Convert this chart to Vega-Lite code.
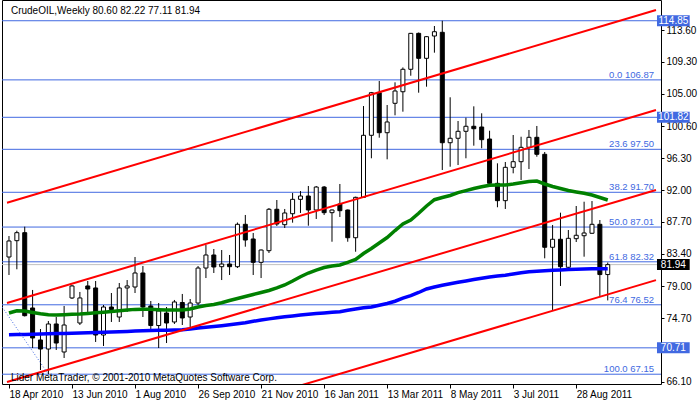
{
  "$schema": "https://vega.github.io/schema/vega-lite/v6.json",
  "width": 659,
  "height": 384,
  "autosize": {"type": "none"},
  "padding": {"left": 2, "top": 0, "right": 39, "bottom": 18},
  "background": "white",
  "config": {"view": {"stroke": "black", "strokeWidth": 1}, "font": "Liberation Sans"},
  "datasets": {
    "candles": [
      {"bar":0,"open":82.97,"high":85.80,"low":80.54,"close":85.13,"ma_green":75.41,"ma_blue":72.46},
      {"bar":1,"open":85.17,"high":86.52,"low":81.31,"close":86.25,"ma_green":75.72,"ma_blue":72.50},
      {"bar":2,"open":86.25,"high":87.06,"low":74.94,"close":75.05,"ma_green":75.68,"ma_blue":72.52},
      {"bar":3,"open":76.09,"high":78.52,"low":70.69,"close":72.04,"ma_green":75.48,"ma_blue":72.55},
      {"bar":4,"open":71.77,"high":73.25,"low":67.72,"close":70.55,"ma_green":75.30,"ma_blue":72.59},
      {"bar":5,"open":70.55,"high":74.33,"low":67.15,"close":73.93,"ma_green":75.18,"ma_blue":72.61},
      {"bar":6,"open":73.93,"high":74.87,"low":70.42,"close":71.36,"ma_green":75.14,"ma_blue":72.63},
      {"bar":7,"open":70.15,"high":76.36,"low":69.34,"close":73.79,"ma_green":75.18,"ma_blue":72.66},
      {"bar":8,"open":77.44,"high":79.19,"low":77.30,"close":79.06,"ma_green":75.24,"ma_blue":72.67},
      {"bar":9,"open":74.06,"high":78.25,"low":73.79,"close":77.44,"ma_green":75.28,"ma_blue":72.70},
      {"bar":10,"open":79.06,"high":79.73,"low":75.55,"close":78.65,"ma_green":75.36,"ma_blue":72.74},
      {"bar":11,"open":78.79,"high":79.73,"low":71.50,"close":72.44,"ma_green":75.44,"ma_blue":72.77},
      {"bar":12,"open":72.44,"high":76.49,"low":70.96,"close":76.22,"ma_green":75.51,"ma_blue":72.81},
      {"bar":13,"open":76.22,"high":78.11,"low":74.20,"close":75.88,"ma_green":75.60,"ma_blue":72.85},
      {"bar":14,"open":74.87,"high":79.46,"low":74.20,"close":78.79,"ma_green":75.71,"ma_blue":72.89},
      {"bar":15,"open":78.79,"high":79.86,"low":75.55,"close":79.06,"ma_green":75.82,"ma_blue":72.93},
      {"bar":16,"open":78.92,"high":82.97,"low":78.11,"close":80.81,"ma_green":75.90,"ma_blue":72.98},
      {"bar":17,"open":80.81,"high":81.75,"low":74.87,"close":76.22,"ma_green":75.91,"ma_blue":73.01},
      {"bar":18,"open":76.36,"high":77.03,"low":73.25,"close":73.72,"ma_green":75.91,"ma_blue":73.04},
      {"bar":19,"open":73.72,"high":76.76,"low":70.69,"close":75.68,"ma_green":75.86,"ma_blue":73.08},
      {"bar":20,"open":75.41,"high":76.22,"low":71.36,"close":74.06,"ma_green":75.82,"ma_blue":73.10},
      {"bar":21,"open":74.20,"high":77.17,"low":73.93,"close":76.90,"ma_green":75.82,"ma_blue":73.12},
      {"bar":22,"open":76.83,"high":77.98,"low":73.79,"close":74.74,"ma_green":75.82,"ma_blue":73.15},
      {"bar":23,"open":74.87,"high":77.30,"low":73.52,"close":76.76,"ma_green":75.95,"ma_blue":73.25},
      {"bar":24,"open":76.76,"high":81.75,"low":76.49,"close":81.48,"ma_green":76.22,"ma_blue":73.39},
      {"bar":25,"open":81.48,"high":84.59,"low":80.13,"close":83.24,"ma_green":76.42,"ma_blue":73.50},
      {"bar":26,"open":83.24,"high":84.05,"low":80.81,"close":81.62,"ma_green":76.56,"ma_blue":73.60},
      {"bar":27,"open":81.66,"high":83.91,"low":79.86,"close":82.02,"ma_green":76.80,"ma_blue":73.70},
      {"bar":28,"open":82.02,"high":83.24,"low":80.54,"close":81.66,"ma_green":77.10,"ma_blue":73.82},
      {"bar":29,"open":81.66,"high":87.62,"low":81.48,"close":87.38,"ma_green":77.37,"ma_blue":73.95},
      {"bar":30,"open":87.38,"high":88.64,"low":84.36,"close":85.26,"ma_green":77.64,"ma_blue":74.10},
      {"bar":31,"open":85.40,"high":86.21,"low":80.54,"close":82.25,"ma_green":77.91,"ma_blue":74.29},
      {"bar":32,"open":82.25,"high":83.98,"low":80.13,"close":83.91,"ma_green":78.18,"ma_blue":74.47},
      {"bar":33,"open":83.82,"high":89.58,"low":83.51,"close":89.41,"ma_green":78.45,"ma_blue":74.62},
      {"bar":34,"open":89.41,"high":90.66,"low":87.15,"close":87.42,"ma_green":78.79,"ma_blue":74.76},
      {"bar":35,"open":87.33,"high":89.45,"low":86.88,"close":88.91,"ma_green":79.19,"ma_blue":74.90},
      {"bar":36,"open":88.81,"high":91.61,"low":87.60,"close":90.75,"ma_green":79.73,"ma_blue":75.02},
      {"bar":37,"open":90.75,"high":91.87,"low":88.91,"close":91.20,"ma_green":80.31,"ma_blue":75.14},
      {"bar":38,"open":91.20,"high":92.55,"low":87.19,"close":89.31,"ma_green":80.81,"ma_blue":75.24},
      {"bar":39,"open":89.31,"high":92.55,"low":88.10,"close":92.41,"ma_green":81.21,"ma_blue":75.33},
      {"bar":40,"open":92.41,"high":92.55,"low":88.64,"close":88.95,"ma_green":81.55,"ma_blue":75.41},
      {"bar":41,"open":88.95,"high":89.38,"low":85.03,"close":89.31,"ma_green":81.75,"ma_blue":75.51},
      {"bar":42,"open":90.12,"high":92.82,"low":88.37,"close":89.22,"ma_green":81.89,"ma_blue":75.59},
      {"bar":43,"open":89.31,"high":89.38,"low":85.03,"close":85.57,"ma_green":82.25,"ma_blue":75.78},
      {"bar":44,"open":85.57,"high":91.11,"low":83.68,"close":91.02,"ma_green":82.63,"ma_blue":75.95},
      {"bar":45,"open":91.02,"high":103.34,"low":90.93,"close":99.39,"ma_green":83.44,"ma_blue":76.11},
      {"bar":46,"open":99.39,"high":105.24,"low":96.29,"close":105.14,"ma_green":84.12,"ma_blue":76.22},
      {"bar":47,"open":105.14,"high":106.72,"low":99.07,"close":99.74,"ma_green":84.86,"ma_blue":76.45},
      {"bar":48,"open":99.74,"high":103.48,"low":96.15,"close":101.19,"ma_green":85.60,"ma_blue":76.69},
      {"bar":49,"open":103.71,"high":106.54,"low":102.09,"close":105.37,"ma_green":86.54,"ma_blue":77.00},
      {"bar":50,"open":105.27,"high":108.55,"low":102.58,"close":108.30,"ma_green":87.42,"ma_blue":77.41},
      {"bar":51,"open":108.30,"high":113.20,"low":107.43,"close":113.15,"ma_green":87.96,"ma_blue":77.76},
      {"bar":52,"open":113.15,"high":113.26,"low":105.14,"close":109.78,"ma_green":88.87,"ma_blue":78.18},
      {"bar":53,"open":109.78,"high":112.79,"low":105.95,"close":112.70,"ma_green":89.85,"ma_blue":78.66},
      {"bar":54,"open":112.79,"high":114.14,"low":110.54,"close":113.37,"ma_green":90.70,"ma_blue":78.92},
      {"bar":55,"open":113.29,"high":114.85,"low":94.71,"close":98.39,"ma_green":91.00,"ma_blue":79.16},
      {"bar":56,"open":98.39,"high":104.52,"low":95.15,"close":98.99,"ma_green":91.27,"ma_blue":79.37},
      {"bar":57,"open":98.99,"high":101.32,"low":95.38,"close":99.93,"ma_green":91.65,"ma_blue":79.55},
      {"bar":58,"open":99.93,"high":101.77,"low":96.29,"close":100.61,"ma_green":91.93,"ma_blue":79.74},
      {"bar":59,"open":100.61,"high":103.30,"low":97.99,"close":100.28,"ma_green":92.21,"ma_blue":79.93},
      {"bar":60,"open":100.51,"high":102.36,"low":97.64,"close":98.80,"ma_green":92.44,"ma_blue":80.11},
      {"bar":61,"open":98.89,"high":100.01,"low":92.45,"close":92.91,"ma_green":92.66,"ma_blue":80.28},
      {"bar":62,"open":92.91,"high":95.61,"low":89.68,"close":90.57,"ma_green":92.68,"ma_blue":80.40},
      {"bar":63,"open":90.57,"high":95.79,"low":89.45,"close":95.07,"ma_green":92.68,"ma_blue":80.51},
      {"bar":64,"open":95.07,"high":99.43,"low":94.26,"close":95.83,"ma_green":92.82,"ma_blue":80.67},
      {"bar":65,"open":95.83,"high":99.20,"low":93.36,"close":97.77,"ma_green":92.99,"ma_blue":80.84},
      {"bar":66,"open":97.77,"high":100.11,"low":94.84,"close":99.12,"ma_green":93.16,"ma_blue":80.97},
      {"bar":67,"open":99.12,"high":100.65,"low":96.50,"close":96.83,"ma_green":93.22,"ma_blue":81.04},
      {"bar":68,"open":96.83,"high":97.14,"low":82.79,"close":84.28,"ma_green":92.82,"ma_blue":81.11},
      {"bar":69,"open":84.28,"high":87.29,"low":75.82,"close":85.36,"ma_green":92.48,"ma_blue":81.17},
      {"bar":70,"open":85.36,"high":88.95,"low":79.06,"close":81.66,"ma_green":92.21,"ma_blue":81.23},
      {"bar":71,"open":81.58,"high":86.61,"low":81.31,"close":85.49,"ma_green":91.94,"ma_blue":81.28},
      {"bar":72,"open":85.44,"high":89.85,"low":84.99,"close":85.90,"ma_green":91.74,"ma_blue":81.32},
      {"bar":73,"open":85.84,"high":90.43,"low":83.01,"close":86.21,"ma_green":91.56,"ma_blue":81.35},
      {"bar":74,"open":86.17,"high":90.52,"low":86.10,"close":87.38,"ma_green":91.33,"ma_blue":81.38},
      {"bar":75,"open":87.38,"high":87.96,"low":77.71,"close":80.60,"ma_green":91.00,"ma_blue":81.39},
      {"bar":76,"open":80.60,"high":82.22,"low":77.11,"close":81.94,"ma_green":90.66,"ma_blue":81.39}
    ],
    "fibo": [
      {"price":106.87,"label":"0.0 106.87"},
      {"price":97.50,"label":"23.6 97.50"},
      {"price":91.70,"label":"38.2 91.70"},
      {"price":87.01,"label":"50.0 87.01"},
      {"price":82.32,"label":"61.8 82.32"},
      {"price":76.52,"label":"76.4 76.52"},
      {"price":67.15,"label":"100.0 67.15"}
    ],
    "hlines": [
      {"price":114.85,"label":"114.85","kind":"line"},
      {"price":101.82,"label":"101.82","kind":"line"},
      {"price":70.71,"label":"70.71","kind":"line"},
      {"price":81.94,"label":"81.94","kind":"bid"}
    ],
    "channels": [
      {"line":"c1","bar":-0.25,"price":90.30},
      {"line":"c1","bar":82.125,"price":116.30},
      {"line":"c2","bar":-0.25,"price":76.76},
      {"line":"c2","bar":82.125,"price":102.80},
      {"line":"c3","bar":-0.25,"price":66.10},
      {"line":"c3","bar":82.125,"price":92.01},
      {"line":"c4","bar":-0.25,"price":53.89},
      {"line":"c4","bar":82.125,"price":79.85}
    ],
    "fibtrend": [
      {"bar":-20.7,"price":106.87},
      {"bar":5,"price":67.15}
    ]
  },
  "layer": [
    {
      "data": {"name": "fibo"},
      "mark": {"type": "rule", "color": "#4169E1", "strokeWidth": 1},
      "encoding": {
        "y": {"field": "price", "type": "quantitative", "scale": {"domain": [65.83, 117.65], "nice": false, "zero": false},
          "axis": {"orient":"right","values":[66.1,74.7,79,83.4,87.7,92,96.3,100.6,105,109.3,113.6],"format":".2f","title":null,"domain":false,"grid":false,"tickSize":3,"tickColor":"black","labelPadding":2,"labelFont":"Liberation Sans","labelFontSize":10,"labelColor":"black","labelOverlap":false,"labelFlush":false}}
      }
    },
    {
      "data": {"name": "hlines"},
      "mark": {"type": "rule", "strokeWidth": 1},
      "encoding": {
        "y": {"field": "price", "type": "quantitative", "scale": {"domain": [65.83, 117.65], "nice": false, "zero": false},
          "axis": {"orient":"right","values":[66.1,74.7,79,83.4,87.7,92,96.3,100.6,105,109.3,113.6],"format":".2f","title":null,"domain":false,"grid":false,"tickSize":3,"tickColor":"black","labelPadding":2,"labelFont":"Liberation Sans","labelFontSize":10,"labelColor":"black","labelOverlap":false,"labelFlush":false}},
        "color": {"condition": {"test": "datum.kind == 'bid'", "value": "#C0C0C0"}, "value": "#4169E1"}
      }
    },
    {
      "data": {"name": "candles"},
      "mark": {"type": "rule", "color": "black", "strokeWidth": 1},
      "encoding": {
        "x": {"field": "bar", "type": "quantitative", "scale": {"domain": [-0.25, 82.125], "nice": false, "zero": false},
          "axis": {"orient":"bottom","values":[0,8,16,24,32,40,48,56,64,72],"labelExpr":"['18 Apr 2010','13 Jun 2010','1 Aug 2010','26 Sep 2010','21 Nov 2010','16 Jan 2011','13 Mar 2011','8 May 2011','3 Jul 2011','28 Aug 2011'][round(datum.value/8)]","title":null,"domain":false,"grid":false,"tickSize":4,"tickColor":"black","labelAlign":"left","labelBaseline":"top","labelPadding":1,"labelFont":"Liberation Sans","labelFontSize":10,"labelColor":"black","labelFlush":false,"labelOverlap":false}},
        "y": {"field": "low", "type": "quantitative", "scale": {"domain": [65.83, 117.65], "nice": false, "zero": false},
          "axis": {"orient":"right","values":[66.1,74.7,79,83.4,87.7,92,96.3,100.6,105,109.3,113.6],"format":".2f","title":null,"domain":false,"grid":false,"tickSize":3,"tickColor":"black","labelPadding":2,"labelFont":"Liberation Sans","labelFontSize":10,"labelColor":"black","labelOverlap":false,"labelFlush":false}},
        "y2": {"field": "high"}
      }
    },
    {
      "data": {"name": "candles"},
      "mark": {"type": "bar", "width": 4, "stroke": "black", "strokeWidth": 1},
      "encoding": {
        "x": {"field": "bar", "type": "quantitative", "scale": {"domain": [-0.25, 82.125], "nice": false, "zero": false},
          "axis": {"orient":"bottom","values":[0,8,16,24,32,40,48,56,64,72],"labelExpr":"['18 Apr 2010','13 Jun 2010','1 Aug 2010','26 Sep 2010','21 Nov 2010','16 Jan 2011','13 Mar 2011','8 May 2011','3 Jul 2011','28 Aug 2011'][round(datum.value/8)]","title":null,"domain":false,"grid":false,"tickSize":4,"tickColor":"black","labelAlign":"left","labelBaseline":"top","labelPadding":1,"labelFont":"Liberation Sans","labelFontSize":10,"labelColor":"black","labelFlush":false,"labelOverlap":false}},
        "y": {"field": "open", "type": "quantitative", "scale": {"domain": [65.83, 117.65], "nice": false, "zero": false},
          "axis": {"orient":"right","values":[66.1,74.7,79,83.4,87.7,92,96.3,100.6,105,109.3,113.6],"format":".2f","title":null,"domain":false,"grid":false,"tickSize":3,"tickColor":"black","labelPadding":2,"labelFont":"Liberation Sans","labelFontSize":10,"labelColor":"black","labelOverlap":false,"labelFlush":false}},
        "y2": {"field": "close"},
        "fill": {"condition": {"test": "datum.close >= datum.open", "value": "white"}, "value": "black"}
      }
    },
    {
      "data": {"name": "candles"},
      "mark": {"type": "line", "color": "#008000", "strokeWidth": 3.5},
      "encoding": {
        "x": {"field": "bar", "type": "quantitative", "scale": {"domain": [-0.25, 82.125], "nice": false, "zero": false},
          "axis": {"orient":"bottom","values":[0,8,16,24,32,40,48,56,64,72],"labelExpr":"['18 Apr 2010','13 Jun 2010','1 Aug 2010','26 Sep 2010','21 Nov 2010','16 Jan 2011','13 Mar 2011','8 May 2011','3 Jul 2011','28 Aug 2011'][round(datum.value/8)]","title":null,"domain":false,"grid":false,"tickSize":4,"tickColor":"black","labelAlign":"left","labelBaseline":"top","labelPadding":1,"labelFont":"Liberation Sans","labelFontSize":10,"labelColor":"black","labelFlush":false,"labelOverlap":false}},
        "y": {"field": "ma_green", "type": "quantitative", "scale": {"domain": [65.83, 117.65], "nice": false, "zero": false},
          "axis": {"orient":"right","values":[66.1,74.7,79,83.4,87.7,92,96.3,100.6,105,109.3,113.6],"format":".2f","title":null,"domain":false,"grid":false,"tickSize":3,"tickColor":"black","labelPadding":2,"labelFont":"Liberation Sans","labelFontSize":10,"labelColor":"black","labelOverlap":false,"labelFlush":false}}
      }
    },
    {
      "data": {"name": "candles"},
      "mark": {"type": "line", "color": "#0000FF", "strokeWidth": 3.5},
      "encoding": {
        "x": {"field": "bar", "type": "quantitative", "scale": {"domain": [-0.25, 82.125], "nice": false, "zero": false},
          "axis": {"orient":"bottom","values":[0,8,16,24,32,40,48,56,64,72],"labelExpr":"['18 Apr 2010','13 Jun 2010','1 Aug 2010','26 Sep 2010','21 Nov 2010','16 Jan 2011','13 Mar 2011','8 May 2011','3 Jul 2011','28 Aug 2011'][round(datum.value/8)]","title":null,"domain":false,"grid":false,"tickSize":4,"tickColor":"black","labelAlign":"left","labelBaseline":"top","labelPadding":1,"labelFont":"Liberation Sans","labelFontSize":10,"labelColor":"black","labelFlush":false,"labelOverlap":false}},
        "y": {"field": "ma_blue", "type": "quantitative", "scale": {"domain": [65.83, 117.65], "nice": false, "zero": false},
          "axis": {"orient":"right","values":[66.1,74.7,79,83.4,87.7,92,96.3,100.6,105,109.3,113.6],"format":".2f","title":null,"domain":false,"grid":false,"tickSize":3,"tickColor":"black","labelPadding":2,"labelFont":"Liberation Sans","labelFontSize":10,"labelColor":"black","labelOverlap":false,"labelFlush":false}}
      }
    },
    {
      "data": {"name": "channels"},
      "mark": {"type": "line", "color": "#FF0000", "strokeWidth": 2, "clip": true},
      "encoding": {
        "x": {"field": "bar", "type": "quantitative", "scale": {"domain": [-0.25, 82.125], "nice": false, "zero": false},
          "axis": {"orient":"bottom","values":[0,8,16,24,32,40,48,56,64,72],"labelExpr":"['18 Apr 2010','13 Jun 2010','1 Aug 2010','26 Sep 2010','21 Nov 2010','16 Jan 2011','13 Mar 2011','8 May 2011','3 Jul 2011','28 Aug 2011'][round(datum.value/8)]","title":null,"domain":false,"grid":false,"tickSize":4,"tickColor":"black","labelAlign":"left","labelBaseline":"top","labelPadding":1,"labelFont":"Liberation Sans","labelFontSize":10,"labelColor":"black","labelFlush":false,"labelOverlap":false}},
        "y": {"field": "price", "type": "quantitative", "scale": {"domain": [65.83, 117.65], "nice": false, "zero": false},
          "axis": {"orient":"right","values":[66.1,74.7,79,83.4,87.7,92,96.3,100.6,105,109.3,113.6],"format":".2f","title":null,"domain":false,"grid":false,"tickSize":3,"tickColor":"black","labelPadding":2,"labelFont":"Liberation Sans","labelFontSize":10,"labelColor":"black","labelOverlap":false,"labelFlush":false}},
        "detail": {"field": "line", "type": "nominal"}
      }
    },
    {
      "data": {"name": "fibtrend"},
      "mark": {"type": "line", "color": "#4169E1", "strokeWidth": 1, "strokeDash": [1, 2], "clip": true},
      "encoding": {
        "x": {"field": "bar", "type": "quantitative", "scale": {"domain": [-0.25, 82.125], "nice": false, "zero": false},
          "axis": {"orient":"bottom","values":[0,8,16,24,32,40,48,56,64,72],"labelExpr":"['18 Apr 2010','13 Jun 2010','1 Aug 2010','26 Sep 2010','21 Nov 2010','16 Jan 2011','13 Mar 2011','8 May 2011','3 Jul 2011','28 Aug 2011'][round(datum.value/8)]","title":null,"domain":false,"grid":false,"tickSize":4,"tickColor":"black","labelAlign":"left","labelBaseline":"top","labelPadding":1,"labelFont":"Liberation Sans","labelFontSize":10,"labelColor":"black","labelFlush":false,"labelOverlap":false}},
        "y": {"field": "price", "type": "quantitative", "scale": {"domain": [65.83, 117.65], "nice": false, "zero": false},
          "axis": {"orient":"right","values":[66.1,74.7,79,83.4,87.7,92,96.3,100.6,105,109.3,113.6],"format":".2f","title":null,"domain":false,"grid":false,"tickSize":3,"tickColor":"black","labelPadding":2,"labelFont":"Liberation Sans","labelFontSize":10,"labelColor":"black","labelOverlap":false,"labelFlush":false}}
      }
    },
    {
      "data": {"name": "fibo"},
      "mark": {"type": "text", "align": "right", "baseline": "alphabetic", "dy": -2, "font": "Liberation Sans", "fontSize": 9.5, "color": "#4169E1"},
      "encoding": {
        "x": {"datum": 81.875, "type": "quantitative", "scale": {"domain": [-0.25, 82.125], "nice": false, "zero": false},
          "axis": {"orient":"bottom","values":[0,8,16,24,32,40,48,56,64,72],"labelExpr":"['18 Apr 2010','13 Jun 2010','1 Aug 2010','26 Sep 2010','21 Nov 2010','16 Jan 2011','13 Mar 2011','8 May 2011','3 Jul 2011','28 Aug 2011'][round(datum.value/8)]","title":null,"domain":false,"grid":false,"tickSize":4,"tickColor":"black","labelAlign":"left","labelBaseline":"top","labelPadding":1,"labelFont":"Liberation Sans","labelFontSize":10,"labelColor":"black","labelFlush":false,"labelOverlap":false}},
        "y": {"field": "price", "type": "quantitative", "scale": {"domain": [65.83, 117.65], "nice": false, "zero": false},
          "axis": {"orient":"right","values":[66.1,74.7,79,83.4,87.7,92,96.3,100.6,105,109.3,113.6],"format":".2f","title":null,"domain":false,"grid":false,"tickSize":3,"tickColor":"black","labelPadding":2,"labelFont":"Liberation Sans","labelFontSize":10,"labelColor":"black","labelOverlap":false,"labelFlush":false}},
        "text": {"field": "label"}
      }
    },
    {
      "data": {"name": "hlines"},
      "mark": {"type": "rule", "strokeWidth": 11, "strokeCap": "butt"},
      "encoding": {
        "x": {"datum": 82.25, "type": "quantitative", "scale": {"domain": [-0.25, 82.125], "nice": false, "zero": false},
          "axis": {"orient":"bottom","values":[0,8,16,24,32,40,48,56,64,72],"labelExpr":"['18 Apr 2010','13 Jun 2010','1 Aug 2010','26 Sep 2010','21 Nov 2010','16 Jan 2011','13 Mar 2011','8 May 2011','3 Jul 2011','28 Aug 2011'][round(datum.value/8)]","title":null,"domain":false,"grid":false,"tickSize":4,"tickColor":"black","labelAlign":"left","labelBaseline":"top","labelPadding":1,"labelFont":"Liberation Sans","labelFontSize":10,"labelColor":"black","labelFlush":false,"labelOverlap":false}},
        "x2": {"datum": 86.4},
        "y": {"field": "price", "type": "quantitative", "scale": {"domain": [65.83, 117.65], "nice": false, "zero": false},
          "axis": {"orient":"right","values":[66.1,74.7,79,83.4,87.7,92,96.3,100.6,105,109.3,113.6],"format":".2f","title":null,"domain":false,"grid":false,"tickSize":3,"tickColor":"black","labelPadding":2,"labelFont":"Liberation Sans","labelFontSize":10,"labelColor":"black","labelOverlap":false,"labelFlush":false}},
        "color": {"condition": {"test": "datum.kind == 'bid'", "value": "#000000"}, "value": "#4169E1"}
      }
    },
    {
      "data": {"name": "hlines"},
      "mark": {"type": "text", "align": "center", "baseline": "middle", "font": "Liberation Sans", "fontSize": 10, "color": "white"},
      "encoding": {
        "x": {"datum": 84.33, "type": "quantitative", "scale": {"domain": [-0.25, 82.125], "nice": false, "zero": false},
          "axis": {"orient":"bottom","values":[0,8,16,24,32,40,48,56,64,72],"labelExpr":"['18 Apr 2010','13 Jun 2010','1 Aug 2010','26 Sep 2010','21 Nov 2010','16 Jan 2011','13 Mar 2011','8 May 2011','3 Jul 2011','28 Aug 2011'][round(datum.value/8)]","title":null,"domain":false,"grid":false,"tickSize":4,"tickColor":"black","labelAlign":"left","labelBaseline":"top","labelPadding":1,"labelFont":"Liberation Sans","labelFontSize":10,"labelColor":"black","labelFlush":false,"labelOverlap":false}},
        "y": {"field": "price", "type": "quantitative", "scale": {"domain": [65.83, 117.65], "nice": false, "zero": false},
          "axis": {"orient":"right","values":[66.1,74.7,79,83.4,87.7,92,96.3,100.6,105,109.3,113.6],"format":".2f","title":null,"domain":false,"grid":false,"tickSize":3,"tickColor":"black","labelPadding":2,"labelFont":"Liberation Sans","labelFontSize":10,"labelColor":"black","labelOverlap":false,"labelFlush":false}},
        "text": {"field": "label"}
      }
    },
    {
      "data": {"values": [{"label": "CrudeOIL,Weekly  80.60 82.22 77.11 81.94"}]},
      "mark": {"type": "text", "align": "left", "baseline": "alphabetic", "font": "Liberation Sans", "fontSize": 10, "color": "black"},
      "encoding": {
        "x": {"datum": 0.25, "type": "quantitative", "scale": {"domain": [-0.25, 82.125], "nice": false, "zero": false},
          "axis": {"orient":"bottom","values":[0,8,16,24,32,40,48,56,64,72],"labelExpr":"['18 Apr 2010','13 Jun 2010','1 Aug 2010','26 Sep 2010','21 Nov 2010','16 Jan 2011','13 Mar 2011','8 May 2011','3 Jul 2011','28 Aug 2011'][round(datum.value/8)]","title":null,"domain":false,"grid":false,"tickSize":4,"tickColor":"black","labelAlign":"left","labelBaseline":"top","labelPadding":1,"labelFont":"Liberation Sans","labelFontSize":10,"labelColor":"black","labelFlush":false,"labelOverlap":false}},
        "y": {"datum": 115.76, "type": "quantitative", "scale": {"domain": [65.83, 117.65], "nice": false, "zero": false},
          "axis": {"orient":"right","values":[66.1,74.7,79,83.4,87.7,92,96.3,100.6,105,109.3,113.6],"format":".2f","title":null,"domain":false,"grid":false,"tickSize":3,"tickColor":"black","labelPadding":2,"labelFont":"Liberation Sans","labelFontSize":10,"labelColor":"black","labelOverlap":false,"labelFlush":false}},
        "text": {"field": "label"}
      }
    },
    {
      "data": {"values": [{"label": "Lider MetaTrader, © 2001-2010 MetaQuotes Software Corp."}]},
      "mark": {"type": "text", "align": "left", "baseline": "alphabetic", "font": "Liberation Sans", "fontSize": 10, "color": "black"},
      "encoding": {
        "x": {"datum": 0.25, "type": "quantitative", "scale": {"domain": [-0.25, 82.125], "nice": false, "zero": false},
          "axis": {"orient":"bottom","values":[0,8,16,24,32,40,48,56,64,72],"labelExpr":"['18 Apr 2010','13 Jun 2010','1 Aug 2010','26 Sep 2010','21 Nov 2010','16 Jan 2011','13 Mar 2011','8 May 2011','3 Jul 2011','28 Aug 2011'][round(datum.value/8)]","title":null,"domain":false,"grid":false,"tickSize":4,"tickColor":"black","labelAlign":"left","labelBaseline":"top","labelPadding":1,"labelFont":"Liberation Sans","labelFontSize":10,"labelColor":"black","labelFlush":false,"labelOverlap":false}},
        "y": {"datum": 66.24, "type": "quantitative", "scale": {"domain": [65.83, 117.65], "nice": false, "zero": false},
          "axis": {"orient":"right","values":[66.1,74.7,79,83.4,87.7,92,96.3,100.6,105,109.3,113.6],"format":".2f","title":null,"domain":false,"grid":false,"tickSize":3,"tickColor":"black","labelPadding":2,"labelFont":"Liberation Sans","labelFontSize":10,"labelColor":"black","labelOverlap":false,"labelFlush":false}},
        "text": {"field": "label"}
      }
    }
  ]
}
